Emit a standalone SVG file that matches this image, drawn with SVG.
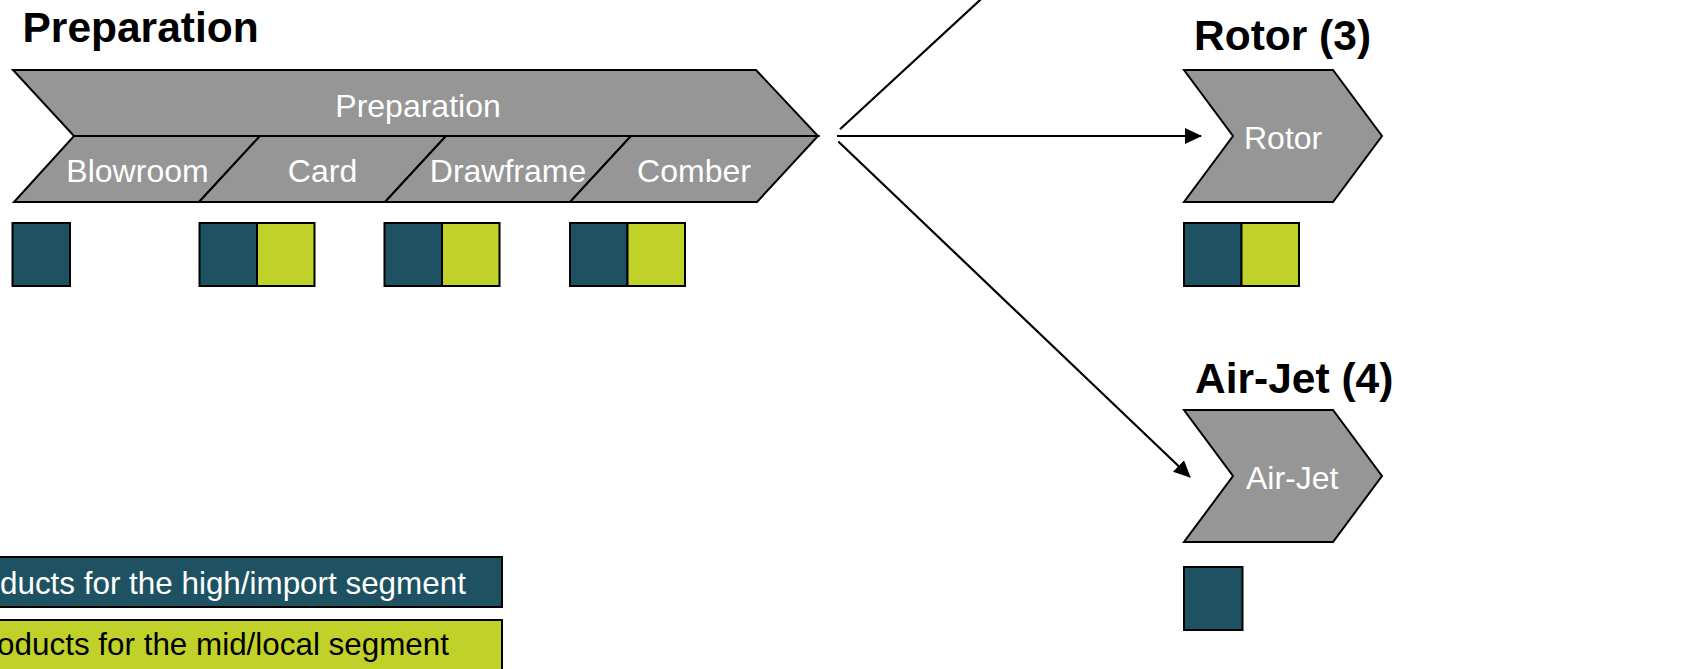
<svg xmlns="http://www.w3.org/2000/svg" width="1698" height="669" viewBox="0 0 1698 669">
  <style>
    .step { fill: #969696; stroke: #000; stroke-width: 2; stroke-linejoin: miter; }
    .lbl { font-family: "Liberation Sans", Arial, sans-serif; font-size: 32px; fill: #fff; }
    .mid { text-anchor: middle; }
    .title { font-family: "Liberation Sans", Arial, sans-serif; font-size: 42.5px; font-weight: bold; fill: #000; }
    .hi { fill: #1E5262; stroke: #000; stroke-width: 2; }
    .lo { fill: #C0D22A; stroke: #000; stroke-width: 2; }
    .conn { stroke: #000; stroke-width: 2.2; fill: none; }
    .legend { font-family: "Liberation Sans", Arial, sans-serif; font-size: 31.4px; }
  </style>
  <defs>
    <marker id="arrow" markerUnits="userSpaceOnUse" markerWidth="17" markerHeight="16" viewBox="0 0 17 16" refX="16" refY="8" orient="auto">
      <path d="M0,0 L17,8 L0,16 z" fill="#000"/>
    </marker>
  </defs>
  <rect width="1698" height="669" fill="#fff"/>

  <!-- Preparation stage -->
  <g id="preparation">
    <text class="title" x="22.5" y="42">Preparation</text>
    <polygon class="step" points="13,70 756,70 818,136 74,136"/>
    <text class="lbl mid" x="418" y="116.5">Preparation</text>
    <polygon class="step" points="74,136 260,136 199,202 14,202"/>
    <polygon class="step" points="260,136 446,136 385,202 199,202"/>
    <polygon class="step" points="446,136 631,136 570,202 385,202"/>
    <polygon class="step" points="631,136 818,136 757,202 570,202"/>
    <text class="lbl mid" x="137.5" y="181.5">Blowroom</text>
    <text class="lbl mid" x="322.5" y="181.5">Card</text>
    <text class="lbl mid" x="508" y="181.5">Drawframe</text>
    <text class="lbl mid" x="694" y="181.5">Comber</text>
    <!-- segment markers under each machine -->
    <rect class="hi" x="12.5" y="223" width="57.5" height="63"/>
    <rect class="hi" x="199.5" y="223" width="57.5" height="63"/>
    <rect class="lo" x="257" y="223" width="57.5" height="63"/>
    <rect class="hi" x="384.5" y="223" width="57.5" height="63"/>
    <rect class="lo" x="442" y="223" width="57.5" height="63"/>
    <rect class="hi" x="570" y="223" width="57.5" height="63"/>
    <rect class="lo" x="627.5" y="223" width="57.5" height="63"/>
  </g>

  <!-- Rotor spinning -->
  <g id="rotor">
    <text class="title" x="1194" y="50">Rotor (3)</text>
    <polygon class="step" points="1184,70 1333,70 1382,136 1333,202 1184,202 1233,136"/>
    <text class="lbl" x="1244" y="148.5">Rotor</text>
    <rect class="hi" x="1184" y="223" width="57.5" height="63"/>
    <rect class="lo" x="1241.5" y="223" width="57.5" height="63"/>
  </g>

  <!-- Air-jet spinning -->
  <g id="airjet">
    <text class="title" x="1195" y="393">Air-Jet (4)</text>
    <polygon class="step" points="1184,410 1333,410 1382,476 1333,542 1184,542 1233,476"/>
    <text class="lbl" x="1246" y="488.5">Air-Jet</text>
    <rect class="hi" x="1184" y="567" width="58.5" height="63"/>
  </g>

  <!-- Legend -->
  <g id="legend">
    <rect class="hi" x="-10" y="557" width="512" height="50"/>
    <text class="legend" x="0" y="594" fill="#fff">ducts for the high/import segment</text>
    <rect class="lo" x="-10" y="620" width="512" height="60"/>
    <text class="legend" x="449" y="655" fill="#000" text-anchor="end">oducts for the mid/local segment</text>
  </g>

  <!-- Connectors -->
  <g id="connectors">
    <line class="conn" x1="840" y1="129.3" x2="992" y2="-11"/>
    <line class="conn" x1="837" y1="136" x2="1201" y2="136" marker-end="url(#arrow)"/>
    <line class="conn" x1="838.3" y1="141.5" x2="1190" y2="477" marker-end="url(#arrow)"/>
  </g>
</svg>
